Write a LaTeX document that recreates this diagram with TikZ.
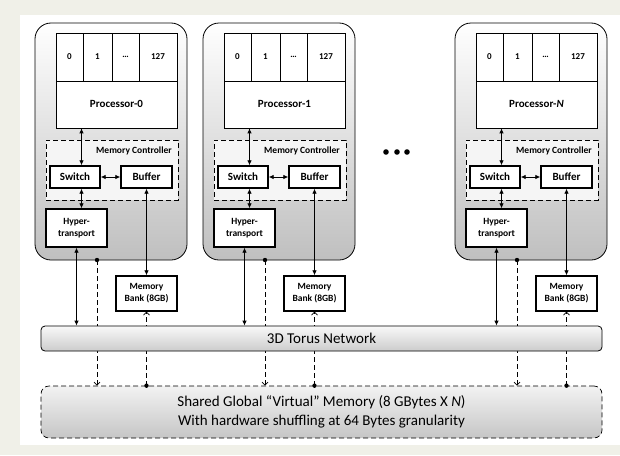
\documentclass[tikz,border=0pt]{standalone}
\usepackage{fontspec}
\setmainfont{Carlito}
\usetikzlibrary{arrows.meta,calc}
\definecolor{pagebg}{RGB}{240,240,232}
\tikzset{
	cpu/.style={draw,line width=0.8pt,rounded corners=16pt,top color=white,bottom color=gray!50,minimum width=152pt,minimum height=237pt,inner sep=0pt},
	unit/.style={draw,line width=1.4pt,fill=white,inner sep=0pt,align=center,font=\bfseries\fontsize{11}{12}\selectfont},
	cell/.style={inner sep=0pt,font=\bfseries\fontsize{9}{10}\selectfont},
	dbl/.style={{Latex[length=5pt,width=4.5pt]}-{Latex[length=5pt,width=4.5pt]},line width=0.8pt},
	dsh/.style={dash pattern=on 5pt off 3pt,line width=0.7pt},
	barb/.style={-{Straight Barb[length=3pt,width=6pt]}}
}
\begin{document}
\begin{tikzpicture}[x=1pt,y=-1pt]
	\useasboundingbox (0,0) rectangle (620,455);
	\fill[pagebg] (0,0) rectangle (620,455);
	\fill[white] (20,15) rectangle (620,445);
	\node[draw,dsh,rounded corners=8pt,top color=gray!10,bottom color=gray!45,minimum width=561pt,minimum height=52pt,inner sep=0pt,align=center,font=\fontsize{15}{19}\selectfont] (sm) at (321.5,412) {Shared Global “Virtual” Memory (8 GBytes X \textit{N})\\With hardware shuffling at 64 Bytes granularity};
	\foreach \dx/\lab [count=\i] in {0/0,168/1,420/\textit{N}}{
		\begin{scope}[xshift=\dx]
			\node[cpu] (pc\i) at (111,141.5) {};
			\node[draw,line width=0.6pt,fill=white,minimum width=121pt,minimum height=95pt,inner sep=0pt] (pr\i) at (116.5,80.5) {};
			\draw[line width=0.6pt] (56,81) -- (177,81);
			\foreach \c in {83,112,139}{
				\draw[line width=0.6pt] (\c,33) -- (\c,81);
			}
			\node[cell] (ca\i) at (69.5,57) {0};
			\node[cell] (cb\i) at (97.5,57) {1};
			\node[cell] (cc\i) at (125.5,57) {…};
			\node[cell] (cd\i) at (158,57) {127};
			\node[font=\bfseries\fontsize{11}{12}\selectfont] (pn\i) at (116.5,104) {Processor-\lab};
			\node[draw,dsh,line width=0.8pt,fill=gray!8,minimum width=132pt,minimum height=60pt,inner sep=0pt] (mc\i) at (112,170) {};
			\node[anchor=east,inner sep=0pt,font=\bfseries\fontsize{9.5}{10}\selectfont] (ml\i) at (172,151) {Memory Controller};
			\node[unit,minimum width=50pt,minimum height=22pt] (sw\i) at (75,177) {Switch};
			\node[unit,minimum width=51pt,minimum height=22pt] (bf\i) at (146.5,177) {Buffer};
			\node[unit,minimum width=61pt,minimum height=38pt,font=\bfseries\fontsize{9.5}{12}\selectfont] (ht\i) at (76.5,228) {Hyper-\\transport};
			\node[unit,minimum width=61pt,minimum height=35pt,font=\bfseries\fontsize{9.5}{12}\selectfont] (bk\i) at (146.5,293.5) {Memory\\Bank (8GB)};
			\coordinate (ax\i) at (81.5,0);
			\coordinate (dt\i) at (97,260);
			\draw[dbl] (pr\i.south -| ax\i) -- (sw\i.north -| ax\i);
			\draw[dbl] (sw\i.east) -- (bf\i.west);
			\draw[dbl] (sw\i.south -| ax\i) -- (ht\i.north -| ax\i);
			\draw[dbl] (bf\i.south) -- (bk\i.north);
			\draw[dsh,barb] (dt\i) -- (dt\i |- sm.north);
			\draw[dsh,barb] (bk\i.south |- sm.north) -- (bk\i.south);
			\fill (dt\i) circle (2.2);
			\fill (bk\i.south |- sm.north) circle (2.2);
		\end{scope}
	}
	\node[draw,line width=0.8pt,rounded corners=4pt,top color=gray!5,bottom color=gray!40,minimum width=561pt,minimum height=25pt,inner sep=0pt,font=\fontsize{15}{16}\selectfont] (tn) at (321.5,338.5) {3D Torus Network};
	\foreach \i in {1,2,3}{
		\draw[dbl] (ht\i.south) -- (ht\i.south |- tn.north);
	}
	\foreach \x in {386,397,407}{
		\fill (\x,152) circle (2.8);
	}
\end{tikzpicture}
\end{document}
